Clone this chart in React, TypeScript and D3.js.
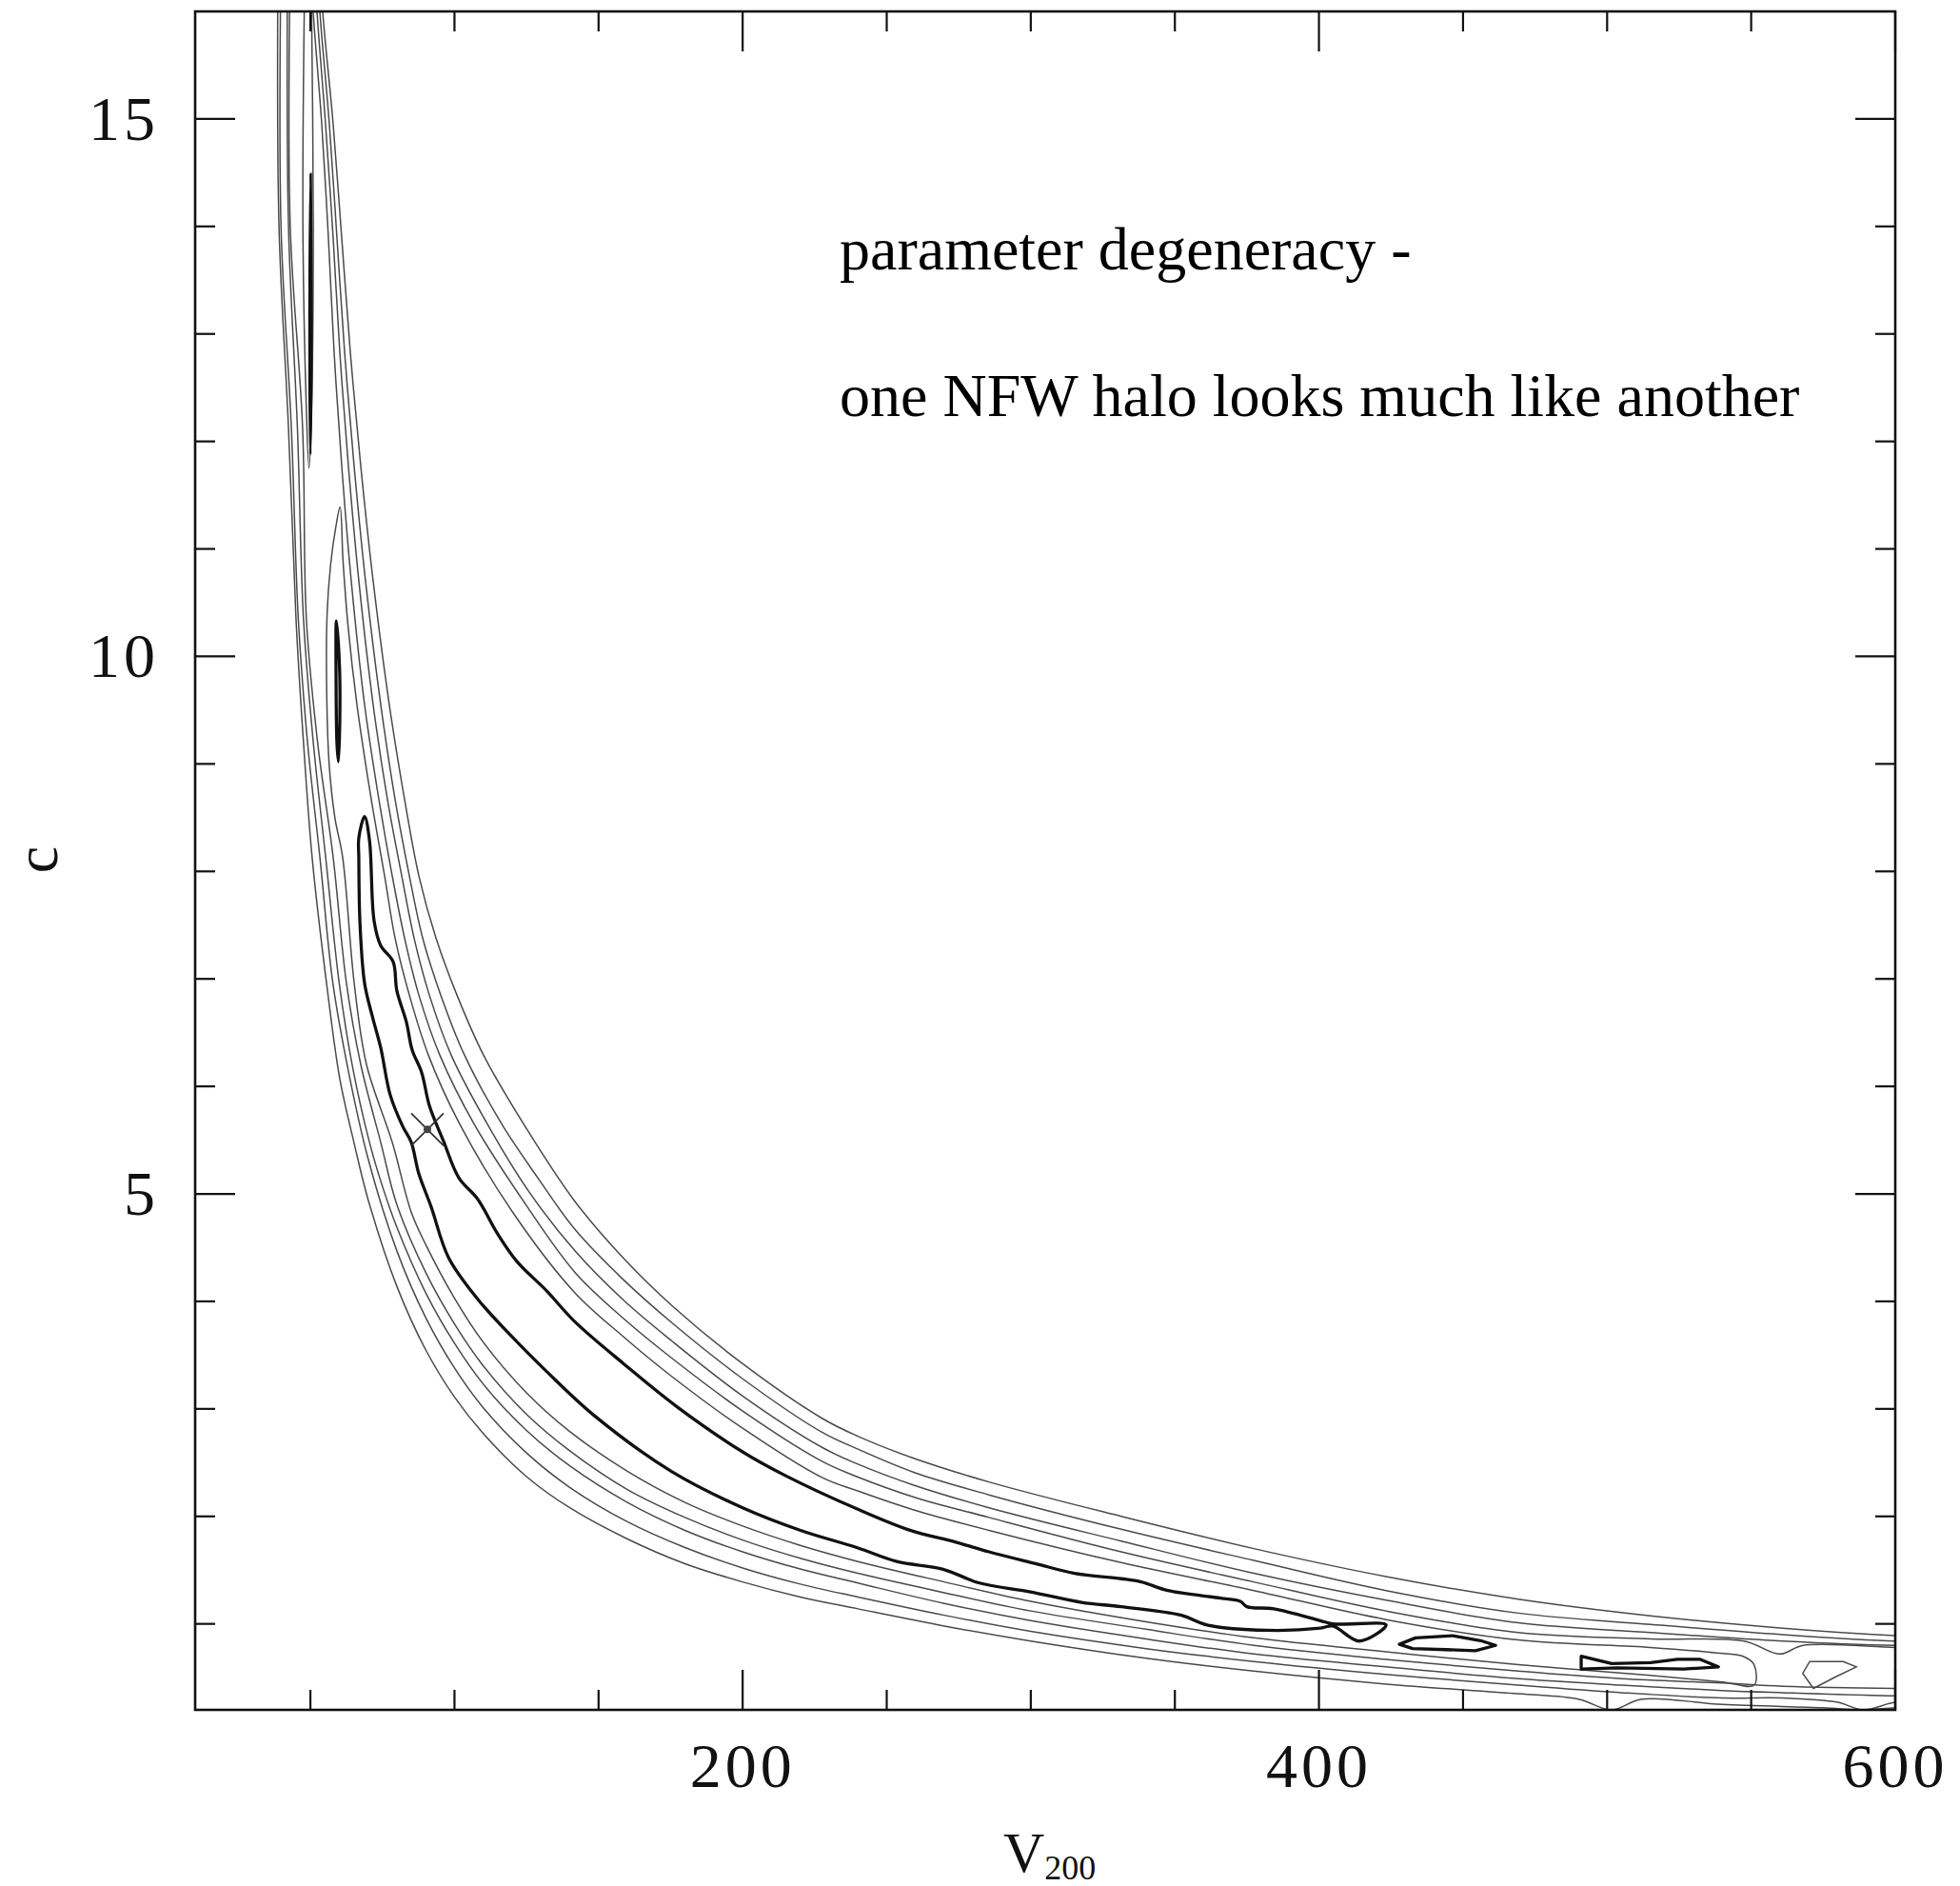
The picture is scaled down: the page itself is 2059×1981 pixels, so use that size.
import React from "react";
import * as d3 from "d3";

type P = [number, number];

// ---- axes / ticks ----
const xDomain: P = [10, 600];
const yDomain: P = [0.2, 16];
const xMajor = [200, 400, 600];
const xMinor = [50, 100, 150, 250, 300, 350, 450, 500, 550];
const yMajor = [5, 10, 15];
const yMinor = [1, 2, 3, 4, 6, 7, 8, 9, 11, 12, 13, 14];

// ---- best fit ----
const bestFit: P = [90.6, 5.6];

// ---- 1-sigma (thick) contour pieces ----
const thickMain: P[] = [
  [68.8, 8.51], [66.8, 8.31], [66.8, 8.13], [67.2, 7.52], [68.8, 6.96], [71.5, 6.65], [74.4, 6.36],
  [77.7, 5.92], [82.0, 5.63], [85.0, 5.48], [87.6, 5.19], [91.9, 4.88], [97.9, 4.41], [108.1, 4.02],
  [120.0, 3.67], [131.9, 3.35], [148.4, 2.94], [175.2, 2.42], [200, 2.08], [220.1, 1.87], [239.6, 1.71],
  [253.5, 1.58], [269.3, 1.51], [282.2, 1.38], [299.4, 1.30], [317.6, 1.20], [331.4, 1.16],
  [352.3, 1.08], [361.2, 0.99], [382.0, 0.94], [400.5, 0.96], [404.8, 0.98], [414.0, 0.84],
  [423.3, 0.99], [404.8, 1.0], [400.5, 1.03], [384.3, 1.14], [375.0, 1.16], [372.7, 1.21],
  [365.8, 1.24], [347.6, 1.31], [338.4, 1.39], [331.4, 1.42], [315.2, 1.47], [301.7, 1.56],
  [285.5, 1.67], [274.0, 1.76], [258.1, 1.87], [239.6, 2.07], [214.8, 2.38], [200, 2.60],
  [177.2, 3.02], [158.7, 3.42], [141.8, 3.81], [131.9, 4.10], [121.7, 4.37], [114.7, 4.64],
  [108.1, 4.95], [101.5, 5.15], [96.2, 5.49], [91.3, 5.82], [88.6, 6.13], [85.3, 6.34],
  [83.3, 6.60], [80.0, 6.89], [78.7, 7.16], [74.4, 7.31], [72.1, 7.54], [70.5, 8.29],
];
const thickSliverA: P[] = [[50.1, 14.49], [50.35, 13.6], [50.35, 12.6], [50.0, 11.88], [49.7, 12.6], [49.75, 13.6]];
const thickSliverB: P[] = [[59.0, 10.33], [60.1, 9.9], [60.2, 9.4], [59.7, 9.02], [59.2, 9.2], [58.9, 9.8]];
const thickIslandD: P[] = [[427.9, 0.81], [433.5, 0.87], [446.4, 0.89], [456.6, 0.84], [461.3, 0.80], [454.3, 0.75], [444.1, 0.76], [432.5, 0.77]];
const thickIslandE: P[] = [[491.0, 0.70], [501.6, 0.63], [515.1, 0.64], [524.4, 0.67], [532.3, 0.67], [538.6, 0.60], [526.7, 0.58], [503.6, 0.59], [491.0, 0.58]];

// ---- thin contour levels: lower branch (top -> right), upper branch (right -> top) ----
const level5Lower: P[] = [
  [38.7, 16.3], [39.1, 14], [42.4, 12.12], [45.0, 10.35], [47.6, 9.2], [50.6, 8.13], [55.6, 6.96],
  [60.2, 6.07], [65.1, 5.48], [70, 4.95], [80, 4.14], [90, 3.55], [100, 3.11], [110, 2.77], [125, 2.37],
  [140, 2.08], [160, 1.79], [180, 1.56], [200, 1.39], [220, 1.25], [240, 1.14], [270, 0.98], [300, 0.84],
  [340, 0.68], [377.4, 0.56], [423.3, 0.44], [469.2, 0.35], [490, 0.30], [501.6, 0.2], [512, 0.30],
  [540, 0.25], [575, 0.22], [588.8, 0.2], [600, 0.22], [610, 0.22],
];
const level5Upper: P[] = [
  [610, 0.88], [600, 0.89], [561, 0.96], [515.1, 1.075], [469.2, 1.23], [423.3, 1.44], [377.4, 1.70],
  [331.4, 2.00], [285.5, 2.32], [259.4, 2.54], [239.6, 2.75], [227.7, 2.91], [200, 3.42], [175.5, 3.96],
  [158.7, 4.40], [141.8, 4.93], [124, 5.65], [110.1, 6.29], [100.85, 6.85], [93.58, 7.38], [87.63, 7.96],
  [82.68, 8.67], [77.39, 9.55], [71.78, 10.70], [67.48, 11.77], [63.85, 12.83], [60.88, 13.89],
  [57.9, 14.95], [54.27, 16.0], [53.8, 16.3],
];
const level4Lower: P[] = [
  [39.7, 16.3], [39.8, 14], [43.4, 12.12], [45.8, 10.35], [49, 9.2], [53.3, 8.13], [57.8, 6.96],
  [63.5, 6.1], [70, 5.33], [80, 4.47], [90, 3.85], [100, 3.38], [110, 3.01], [125, 2.59], [140, 2.27],
  [160, 1.95], [180, 1.71], [200, 1.52], [220, 1.37], [240, 1.25], [270, 1.08], [300, 0.93], [340, 0.77],
  [377.4, 0.65], [423.3, 0.53], [469.2, 0.43], [505, 0.36], [540, 0.31], [561, 0.31], [580, 0.27],
  [588.8, 0.2], [600, 0.27], [610, 0.27],
];
const level4Upper: P[] = [
  [610, 0.84], [600, 0.84], [561, 0.90], [515.1, 0.995], [469.2, 1.10], [423.3, 1.31], [377.4, 1.59],
  [331.4, 1.88], [285.5, 2.20], [259.4, 2.41], [239.6, 2.63], [227.7, 2.78], [200, 3.28], [175.5, 3.80],
  [158.7, 4.20], [141.8, 4.67], [128.9, 5.15], [116.4, 5.65], [103.5, 6.29], [95.23, 6.85], [88.96, 7.38],
  [84.33, 7.96], [79.38, 8.67], [74.42, 9.55], [69.13, 10.70], [65.17, 11.77], [61.87, 12.83],
  [59.22, 13.89], [56.58, 14.95], [53.28, 16.0], [52.8, 16.3],
];
const level3Lower: P[] = [
  [42.0, 16.3], [42.4, 14], [45.5, 12.12], [47.6, 10.35], [51, 9.2], [55.3, 8.13], [60.0, 6.96],
  [64.5, 6.2], [70.5, 5.48], [75, 5.07], [80, 4.69], [90, 4.08], [100, 3.61], [110, 3.23], [125, 2.80],
  [140, 2.47], [160, 2.13], [180, 1.87], [200, 1.67], [220, 1.51], [240, 1.38], [270, 1.19], [300, 1.03],
  [340, 0.86], [377.4, 0.72], [423.3, 0.60], [469.2, 0.49], [505, 0.43], [540, 0.38], [561, 0.36],
  [600, 0.33], [610, 0.33],
];
const level3Upper: P[] = [
  [610, 0.80], [600, 0.80], [561, 0.84], [515.1, 0.92], [469.2, 1.01], [423.3, 1.22], [377.4, 1.47],
  [331.4, 1.77], [285.5, 2.08], [259.4, 2.29], [239.6, 2.49], [227.7, 2.64], [200, 3.12], [175.5, 3.63],
  [158.7, 4.01], [141.8, 4.47], [125.6, 5.03], [111.4, 5.65], [98.88, 6.29], [91.27, 6.85], [85.98, 7.38],
  [81.69, 7.96], [76.73, 8.67], [71.78, 9.55], [66.82, 10.70], [63.19, 11.77], [60.21, 12.83],
  [57.9, 13.89], [55.26, 14.95], [52.29, 16.0], [51.8, 16.3],
];
const level2Lower: P[] = [
  [42.9, 16.3], [43.0, 14], [47.3, 12.12], [48.6, 10.35], [52.5, 9.2], [57.9, 8.13], [62.5, 6.96],
  [67.5, 6.2], [74.4, 5.48], [80, 4.90], [90, 4.27], [100, 3.79], [110, 3.40], [125, 2.95], [140, 2.61],
  [160, 2.25], [180, 1.99], [200, 1.78], [220, 1.61], [240, 1.47], [270, 1.29], [300, 1.12], [340, 0.95],
  [377.4, 0.80], [423.3, 0.67], [469.2, 0.56], [505, 0.49], [540, 0.45], [561, 0.42], [600, 0.40],
  [610, 0.40],
];
const level2Upper: P[] = [
  [610, 0.78], [600, 0.78], [568, 0.80], [560, 0.72], [547.5, 0.84], [515.1, 0.86], [469.2, 0.92],
  [423.3, 1.12], [377.4, 1.39], [331.4, 1.67], [285.5, 1.99], [259.4, 2.18], [239.6, 2.37], [227.7, 2.51],
  [200, 2.98], [175.5, 3.47], [158.7, 3.84], [141.8, 4.27], [124, 4.93], [106.8, 5.65], [94.92, 6.29],
  [87.63, 6.85], [82.68, 7.38], [78.38, 7.96], [73.76, 8.67], [68.8, 9.55], [64.18, 10.70],
  [60.88, 11.77], [58.23, 12.83], [56.25, 13.89], [53.94, 14.95], [50.96, 16.0], [50.5, 16.3],
];
const level1LoopA: P[] = [[48.0, 16.3], [47.4, 14], [48.6, 12.3], [49.5, 11.75], [50.4, 12.3], [51.0, 14], [50.3, 16.3]];
const level1LoopB: P[] = [
  [60.3, 11.39], [58.8, 11.2], [57.0, 10.85], [55.8, 10.4], [55.6, 9.8], [56.5, 9.0], [58.5, 8.5],
  [61.2, 8.13], [65.2, 6.96], [69.5, 6.2], [78.4, 5.48], [85, 4.83], [90, 4.53], [100, 4.03], [110, 3.62],
  [125, 3.15], [140, 2.79], [160, 2.42], [180, 2.13], [200, 1.91], [220, 1.73], [240, 1.58], [270, 1.39],
  [300, 1.21], [340, 1.02], [377.4, 0.87], [423.3, 0.74], [469.2, 0.62], [515, 0.52], [540, 0.46],
  [551, 0.43], [551, 0.62], [547, 0.70], [538, 0.73], [515, 0.78], [469.2, 0.85], [423.3, 1.04],
  [377.4, 1.31], [331.4, 1.57], [285.5, 1.87], [259.4, 2.06], [239.6, 2.24], [227.7, 2.36], [200, 2.82],
  [175.5, 3.30], [158.7, 3.67], [141.8, 4.08], [120.7, 4.81], [101.8, 5.65], [90.96, 6.29], [84.33, 6.85],
  [79.38, 7.38], [75.74, 7.96], [71.12, 8.67], [66.16, 9.55], [63.0, 10.3], [61.3, 10.9],
];
const level1Diamond: P[] = [[570.3, 0.65], [581.9, 0.65], [586.5, 0.60], [579.5, 0.51], [571.6, 0.40], [567.9, 0.54]];

// ---- texts ----
const noteLines = ["parameter degeneracy -", "one NFW halo looks much like another"];
const xLabel = "V";
const xLabelSub = "200";
const yLabel = "c";

const W = 2059;
const H = 1981;
const L = 205, R = 1991, T = 12, B = 1796;

export default function App() {
  const x = d3.scaleLinear().domain(xDomain).range([L, R]);
  const y = d3.scaleLinear().domain(yDomain).range([B, T]);

  const open = d3.line<P>().x((d) => x(d[0])).y((d) => y(d[1])).curve(d3.curveCatmullRom.alpha(0.5));
  const closedSmooth = d3.line<P>().x((d) => x(d[0])).y((d) => y(d[1])).curve(d3.curveCatmullRomClosed.alpha(0.5));
  const closedLin = d3.line<P>().x((d) => x(d[0])).y((d) => y(d[1])).curve(d3.curveLinearClosed);

  const thinOpen = [
    [...level5Lower, ...level5Upper],
    [...level4Lower, ...level4Upper],
    [...level3Lower, ...level3Upper],
    [...level2Lower, ...level2Upper],
    level1LoopA,
  ];

  const thinStyle = { fill: "none", stroke: "#4a4a4a", strokeWidth: 1.5 };
  const thickStyle = { fill: "none", stroke: "#111", strokeWidth: 3.3, strokeLinejoin: "round" as const };
  const font = "'Liberation Serif', 'Times New Roman', serif";

  const major = 42, minor = 21;
  const bx = x(bestFit[0]), by = y(bestFit[1]);

  return (
    <svg width={W} height={H} style={{ position: "absolute", left: 0, top: 0, background: "#fff" }}>
      <rect x={0} y={0} width={W} height={H} fill="#fff" />
      <defs>
        <clipPath id="plotClip">
          <rect x={L} y={T} width={R - L} height={B - T} />
        </clipPath>
      </defs>
      <g clipPath="url(#plotClip)">
        {thinOpen.map((d, i) => (
          <path key={"to" + i} d={open(d) || ""} {...thinStyle} />
        ))}
        <path d={closedSmooth(level1LoopB) || ""} {...thinStyle} />
        <path d={closedLin(level1Diamond) || ""} {...thinStyle} />
        <path d={closedSmooth(thickMain) || ""} {...thickStyle} />
        <path d={closedSmooth(thickSliverA) || ""} {...thickStyle} strokeWidth={2.6} />
        <path d={closedSmooth(thickSliverB) || ""} {...thickStyle} />
        <path d={closedLin(thickIslandD) || ""} {...thickStyle} />
        <path d={closedLin(thickIslandE) || ""} {...thickStyle} />
        {/* best-fit marker */}
        <line x1={bx - 17} y1={by - 17} x2={bx + 17} y2={by + 17} stroke="#333" strokeWidth={1.8} />
        <line x1={bx - 17} y1={by + 17} x2={bx + 17} y2={by - 17} stroke="#333" strokeWidth={1.8} />
        <circle cx={bx} cy={by} r={4} fill="#444" />
      </g>

      {/* frame */}
      <rect x={L} y={T} width={R - L} height={B - T} fill="none" stroke="#111" strokeWidth={2.6} />

      {/* x ticks bottom & top */}
      {xMajor.concat(xMinor).map((v) => {
        const len = xMajor.includes(v) ? major : minor;
        return (
          <g key={"xt" + v} stroke="#111" strokeWidth={2.2}>
            <line x1={x(v)} x2={x(v)} y1={B} y2={B - len} />
            <line x1={x(v)} x2={x(v)} y1={T} y2={T + len} />
          </g>
        );
      })}
      {/* y ticks left & right */}
      {yMajor.concat(yMinor).map((v) => {
        const len = yMajor.includes(v) ? major : minor;
        return (
          <g key={"yt" + v} stroke="#111" strokeWidth={2.2}>
            <line x1={L} x2={L + len} y1={y(v)} y2={y(v)} />
            <line x1={R} x2={R - len} y1={y(v)} y2={y(v)} />
          </g>
        );
      })}

      {/* tick labels */}
      {xMajor.map((v) => (
        <text key={"xl" + v} x={x(v)} y={1877} textAnchor="middle" fontFamily={font} fontSize={66} letterSpacing={4} fill="#111">
          {v}
        </text>
      ))}
      {yMajor.map((v) => (
        <text key={"yl" + v} x={167} y={y(v) + 22} textAnchor="end" fontFamily={font} fontSize={66} letterSpacing={4} fill="#111">
          {v}
        </text>
      ))}

      {/* axis labels */}
      <text x={1054} y={1966} fontFamily={font} fontSize={60} fill="#111">
        {xLabel}
        <tspan fontSize={36} dy={8}>{xLabelSub}</tspan>
      </text>
      <text x={38} y={903} transform="rotate(-90 38 903)" textAnchor="middle" dominantBaseline="central" fontFamily={font} fontSize={64} fill="#111">
        {yLabel}
      </text>

      {/* annotation */}
      {noteLines.map((t, i) => (
        <text key={"n" + i} x={882} y={283 + i * 154} fontFamily={font} fontSize={64} fill="#000">
          {t}
        </text>
      ))}
    </svg>
  );
}
